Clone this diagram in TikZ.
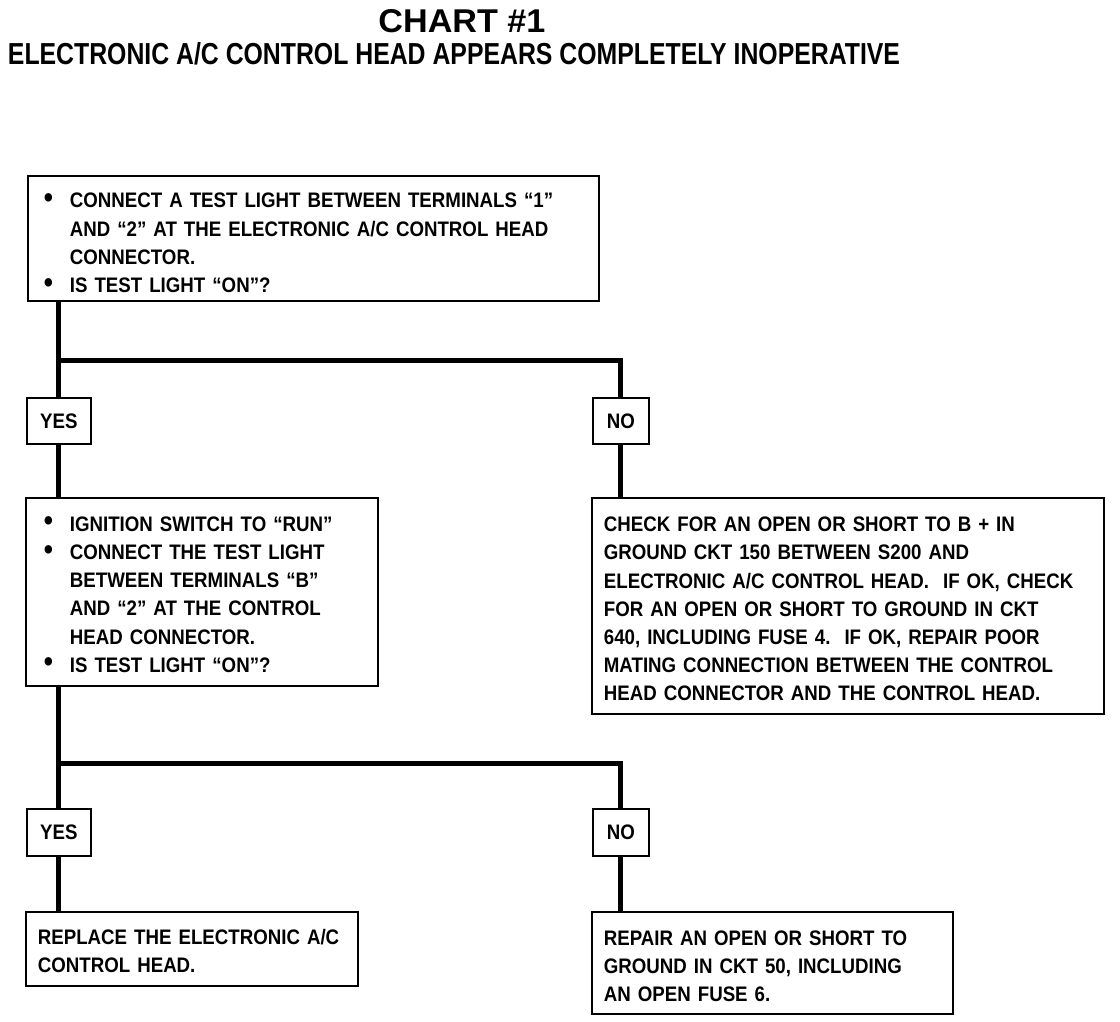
\documentclass[tikz,border=0pt]{standalone}
\usepackage{fontspec}
\setmainfont{Liberation Sans}
\newfontfamily\bodyfont[FakeStretch=0.89]{Liberation Sans}
\newcommand\bodytext{\bodyfont\bfseries\fontsize{21}{28.2}\selectfont}
\newcommand\bul{\makebox[26pt][l]{\raisebox{0.5pt}{\scalebox{1.4}{\textbullet}}}}
\newcommand\ind{\hspace*{26pt}}
\newcommand\topstrut[1]{\rule{0pt}{#1}}
\begin{document}
\begin{tikzpicture}[x=1pt,y=-1pt,
  box/.style={draw,line width=1.8pt,anchor=north west,align=left,font=\bodytext,inner ysep=0pt},
  ans/.style={draw,line width=1.8pt,anchor=north west,inner sep=0pt,font=\bodytext},
  conn/.style={line width=5pt}]
\useasboundingbox (0,0) rectangle (1120,1022);
\fill[white] (0,0) rectangle (1120,1022);

% titles
\node[inner sep=0pt,anchor=base] (title) at (462,33) {\resizebox{167pt}{23pt}{\bfseries CHART \#1}};
\node[inner sep=0pt,anchor=base] (subtitle) at (454,65) {\resizebox{892pt}{22pt}{\bfseries ELECTRONIC A/C CONTROL HEAD APPEARS COMPLETELY INOPERATIVE}};

% boxes
\node[box,minimum width=571pt,minimum height=125pt,inner xsep=16pt,text width=539pt] (b1) at (27,175)
 {\topstrut{24pt}\bul CONNECT A TEST LIGHT BETWEEN TERMINALS “1”\\
  \ind AND “2” AT THE ELECTRONIC A/C CONTROL HEAD\\
  \ind CONNECTOR.\\
  \bul IS TEST LIGHT “ON”?};

\node[ans,minimum width=64pt,minimum height=46pt] (y1) at (26,397) {YES};
\node[ans,minimum width=56pt,minimum height=46pt] (n1) at (592,397) {NO};

\node[box,minimum width=352pt,minimum height=188pt,inner xsep=18pt,text width=316pt] (b2) at (25,497)
 {\topstrut{20pt}\bul IGNITION SWITCH TO “RUN”\\
  \bul CONNECT THE TEST LIGHT\\
  \ind BETWEEN TERMINALS “B”\\
  \ind AND “2” AT THE CONTROL\\
  \ind HEAD CONNECTOR.\\
  \bul IS TEST LIGHT “ON”?};

\node[box,minimum width=512pt,minimum height=216pt,inner xsep=12pt,text width=488pt] (b3) at (591,497)
 {\topstrut{21pt}CHECK FOR AN OPEN OR SHORT TO B + IN\\
  GROUND CKT 150 BETWEEN S200 AND\\
  ELECTRONIC A/C CONTROL HEAD.\ \ IF OK, CHECK\\
  FOR AN OPEN OR SHORT TO GROUND IN CKT\\
  640, INCLUDING FUSE 4.\ \ IF OK, REPAIR POOR\\
  MATING CONNECTION BETWEEN THE CONTROL\\
  HEAD CONNECTOR AND THE CONTROL HEAD.};

\node[ans,minimum width=64pt,minimum height=47pt] (y2) at (26,808) {YES};
\node[ans,minimum width=56pt,minimum height=47pt] (n2) at (592,808) {NO};

\node[box,minimum width=332pt,minimum height=74pt,inner xsep=12pt,text width=308pt] (b4) at (25,911)
 {\topstrut{20pt}REPLACE THE ELECTRONIC A/C\\
  CONTROL HEAD.};

\node[box,minimum width=361pt,minimum height=102pt,inner xsep=12pt,text width=337pt] (b5) at (591,911)
 {\topstrut{21pt}REPAIR AN OPEN OR SHORT TO\\
  GROUND IN CKT 50, INCLUDING\\
  AN OPEN FUSE 6.};

% connectors
\coordinate (j1) at (58,360);
\coordinate (j2) at (58,763);
\draw[conn] (b1.south -| y1.north) -- (y1.north);
\draw[conn] (j1) -| (n1.north);
\draw[conn] (y1.south) -- (y1.south |- b2.north);
\draw[conn] (n1.south) -- (n1.south |- b3.north);
\draw[conn] (b2.south -| y2.north) -- (y2.north);
\draw[conn] (j2) -| (n2.north);
\draw[conn] (y2.south) -- (y2.south |- b4.north);
\draw[conn] (n2.south) -- (n2.south |- b5.north);
\end{tikzpicture}
\end{document}
